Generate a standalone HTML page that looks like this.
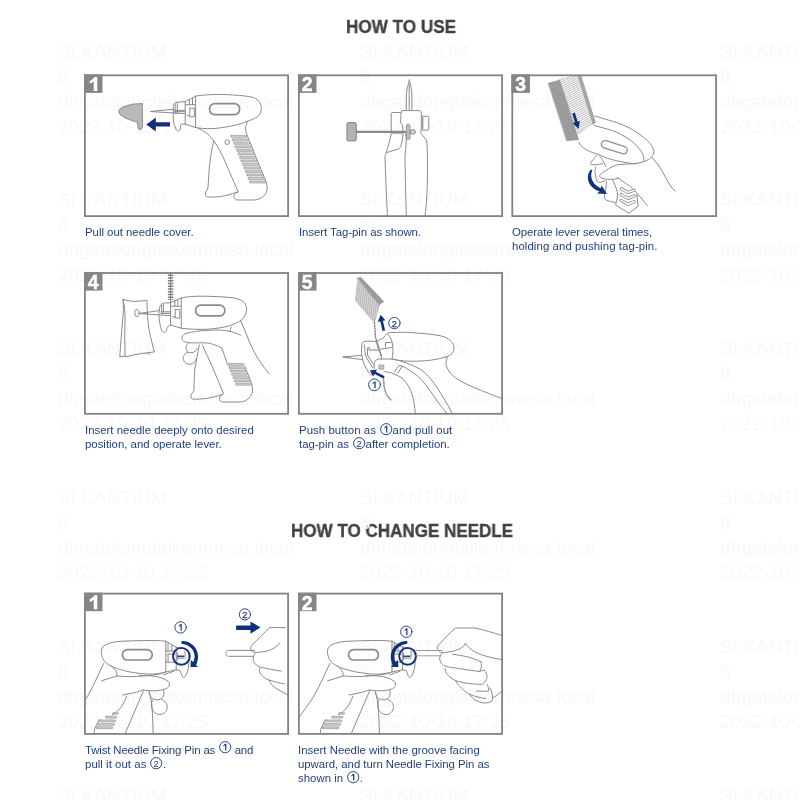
<!DOCTYPE html>
<html><head><meta charset="utf-8">
<style>
html,body{margin:0;padding:0;background:#fff;}
body{width:800px;height:800px;position:relative;overflow:hidden;font-family:"Liberation Sans",sans-serif;}
.h{will-change:transform;position:absolute;font-weight:bold;color:#414141;-webkit-text-stroke:0.35px #414141;font-size:18px;line-height:18px;white-space:nowrap;transform-origin:0 0;}
.box{position:absolute;box-sizing:border-box;border:2px solid #868686;border-top-width:1.6px;border-bottom-width:1.8px;width:205px;height:142.5px;background:transparent;}
.bd{position:absolute;width:18.6px;height:18.2px;background:#858585;color:#fff;font-weight:bold;font-size:19.5px;line-height:21px;text-align:center;overflow:hidden;}
.t{will-change:transform;position:absolute;color:#223f7f;font-size:11.4px;line-height:14px;white-space:nowrap;transform-origin:0 0;}
.wm{position:absolute;color:#f9f9f9;font-size:19px;line-height:25px;white-space:nowrap;}
svg{position:absolute;left:0;top:0;}
.c{display:inline-block;position:relative;left:auto;top:0;width:12.4px;height:12.4px;margin:-4px 0.5px -1.8px 0.5px;overflow:visible}
</style></head><body>

<div class="h" id="h1" style="left:346.3px;top:17.7px;transform:scale(0.951,1.01)">HOW TO USE</div>
<div class="h" id="h2" style="left:290.5px;top:521.7px;transform:scale(0.946,1.02)">HOW TO CHANGE NEEDLE</div>

<!-- faint watermark -->
<div class="wm" style="left:58px;top:38.5px">SI.KANTIUM<br>8<br>dhgatelongtaikemnesa.local<br>2022-10-10 17:25</div>
<div class="wm" style="left:360px;top:38.5px">SI.KANTIUM<br>8<br>dhgatelongtaikemnesa.local<br>2022-10-10 17:25</div>
<div class="wm" style="left:720px;top:38.5px">SI.KANTIUM<br>8<br>dhgatelongtaikemnesa.local<br>2022-10-10 17:25</div>
<div class="wm" style="left:58px;top:187.3px">SI.KANTIUM<br>8<br>dhgatelongtaikemnesa.local<br>2022-10-10 17:25</div>
<div class="wm" style="left:360px;top:187.3px">SI.KANTIUM<br>8<br>dhgatelongtaikemnesa.local<br>2022-10-10 17:25</div>
<div class="wm" style="left:720px;top:187.3px">SI.KANTIUM<br>8<br>dhgatelongtaikemnesa.local<br>2022-10-10 17:25</div>
<div class="wm" style="left:58px;top:336.1px">SI.KANTIUM<br>8<br>dhgatelongtaikemnesa.local<br>2022-10-10 17:25</div>
<div class="wm" style="left:360px;top:336.1px">SI.KANTIUM<br>8<br>dhgatelongtaikemnesa.local<br>2022-10-10 17:25</div>
<div class="wm" style="left:720px;top:336.1px">SI.KANTIUM<br>8<br>dhgatelongtaikemnesa.local<br>2022-10-10 17:25</div>
<div class="wm" style="left:58px;top:484.9px">SI.KANTIUM<br>8<br>dhgatelongtaikemnesa.local<br>2022-10-10 17:25</div>
<div class="wm" style="left:360px;top:484.9px">SI.KANTIUM<br>8<br>dhgatelongtaikemnesa.local<br>2022-10-10 17:25</div>
<div class="wm" style="left:720px;top:484.9px">SI.KANTIUM<br>8<br>dhgatelongtaikemnesa.local<br>2022-10-10 17:25</div>
<div class="wm" style="left:58px;top:633.7px">SI.KANTIUM<br>8<br>dhgatelongtaikemnesa.local<br>2022-10-10 17:25</div>
<div class="wm" style="left:360px;top:633.7px">SI.KANTIUM<br>8<br>dhgatelongtaikemnesa.local<br>2022-10-10 17:25</div>
<div class="wm" style="left:720px;top:633.7px">SI.KANTIUM<br>8<br>dhgatelongtaikemnesa.local<br>2022-10-10 17:25</div>
<div class="wm" style="left:58px;top:782.5px">SI.KANTIUM<br>8<br>dhgatelongtaikemnesa.local<br>2022-10-10 17:25</div>
<div class="wm" style="left:360px;top:782.5px">SI.KANTIUM<br>8<br>dhgatelongtaikemnesa.local<br>2022-10-10 17:25</div>
<div class="wm" style="left:720px;top:782.5px">SI.KANTIUM<br>8<br>dhgatelongtaikemnesa.local<br>2022-10-10 17:25</div>
<!-- ILLUSTRATIONS -->
<svg id="art" width="800" height="800" viewBox="0 0 800 800" fill="none" stroke="#8a8a8a" stroke-width="1" stroke-linecap="round" stroke-linejoin="round">
<!-- PANEL 1 -->
<g id="p1">
  <!-- needle cover -->
  <path d="M118.8,111.3 C119.5,107 130,103.6 142.4,103.7 L142.5,126 C142.3,129 140,130.2 138.9,129 C137.6,127.4 138,124 137.3,122.3 C133,120.8 119,117.5 118.8,111.3 Z" fill="#b9b9b9" stroke="#9a9a9a" stroke-width="1.2"/>
  <!-- arrow -->
  <path d="M146.3,124.4 L155.8,117.6 L155.8,122.2 L170,122.2 L170,126.6 L155.8,126.6 L155.8,131.4 Z" fill="#10307d" stroke="none"/>
  <!-- needle -->
  <path d="M150.8,111.4 L173.4,109.3 M150.8,111.6 L185,113.6 M173.4,110.4 L185,110.4 M175,111.7 L185,111.7"/>
  <!-- front nose piece -->
  <path d="M185.4,101.6 L177,102.2 C174.6,102.6 173.3,104 173.3,106.5 L173.2,119 C173.4,123 174.8,126.5 176,129 C177,131.6 179.6,131.6 180.2,129.6 L180.6,125.4 C180.8,124.4 181.3,124.1 182.2,124.1 L185.4,124.2"/>
  <path d="M185.2,101.6 L185.2,124.3 M175.2,104 L175.2,113.4 M177.3,103.6 L177.3,113.4"/>
  <!-- cone -->
  <path d="M185.4,101.6 L195.6,96.1 M185.4,124.2 L195.6,127.5 M192.5,97.6 L192.5,104.7 M189.4,99.6 L189.4,104.7 M185.4,104.7 L195.4,104.7"/>
  <path d="M189.8,108.2 L194.3,108.2 L194.3,116.8 L189.3,116.8 L189.3,115.4 L187.4,115.4 M189.8,108.2 L189.8,115.2"/>
  <!-- main body -->
  <path d="M195.6,96.1 L195.6,127.5 M195.6,96.1 C205,94.6 215,94.3 225,94.6 C235,95 245,95.8 251.3,96.9 C257.5,98.3 261.3,103 261.3,108.6 C261.3,112.6 259.6,115.4 257,117 C254,119 250,120.4 247.5,121.3 C240,124.4 225,128 212,128.6 C206,128.8 200,128.4 195.6,127.5"/>
  <rect x="209.6" y="103.6" width="30" height="11" rx="5" ry="5" stroke="#8a8a8a" stroke-width="1.7"/>
  <!-- handle -->
  <path d="M197.8,128.2 C205,131 210,135.4 213.8,140.8 C218,147 222,154 225.5,162.5 C229.5,172 234,182.5 238,191.2"/>
  <path d="M213.8,140.8 C211.5,150 210,160 209.3,168 C208.7,176 208.4,182 208,187.5 C207.6,189.6 206,191 205.6,192.8 C205.2,194.8 205.6,196.4 207.2,196.8 C211,197.2 216,197.2 220,196.6 C226,195.8 232,194 238,191.6"/>
  <path d="M238,192.4 C236,192.8 234.4,193.4 234,195 C233.5,197.4 234.6,199.6 237.2,200 L254,200 C258.5,199.8 262.5,198 265,194.4 C267.2,191.4 267.8,187.5 266.4,182.8 L248,137.4 C246,133 245,129 245.7,126.5 C246.2,124.6 246.8,122.8 247.5,121.3"/>
  <circle cx="227.3" cy="142.2" r="2.3"/>
</g>

<!-- PANEL 2 -->
<g id="p2">
  <!-- needle -->
  <path d="M409.4,80 C408,85 406.6,90 406.3,94 L406.3,110.4 M409.4,80 C410.6,85 411.6,90 411.9,94 L411.9,110.4 M409.2,84 L409.2,110"/>
  <!-- head block -->
  <path d="M402.6,110.6 L419.4,110.6 C420.8,110.8 421.3,111.6 421.3,113 L421.3,129.6 C421.2,130.6 420.4,131.2 420.6,132.4 C421,134 422.6,135.2 424,137 C425.6,139 426.8,140.6 426.9,142 C427.3,150 427.6,160 427.5,170 C427.4,180 427.2,190 426.8,196 C426.4,204 425.6,211 425,216.4"/>
  <path d="M402.6,110.6 C401.4,110.8 401.1,111.6 401.1,112.6 L400.6,122.2 C400.7,123.6 402.3,124 402.6,125.4 L403.1,133.6 C402.8,138 402,142 401.2,145 C400.6,147 399.8,148.2 398.6,148.8 L386.8,152.6"/>
  <!-- left small block -->
  <path d="M401,112.5 L392.4,112.5 C391.5,112.6 391.2,113 391.2,114 L391.2,133.8 C390,140 388,147 386.4,152.4 C385.4,154.6 385,156 385,158 C385.2,165 385.5,172 385.8,180 C386.2,190 386.8,205 387.5,216.4"/>
  <!-- centre line -->
  <path d="M405.6,134 C406.4,138 406.2,142 406,146 C405.4,152 405,156 405,160 C405.2,175 405.8,195 406.3,216.4"/>
  <!-- button -->
  <path d="M421.8,116.3 L427.8,116.3 C428.5,116.4 428.8,116.8 428.8,117.4 L428.8,129 C428.8,129.8 428.4,130.1 427.6,130.1 L421.8,130.1"/>
  <path d="M422.6,118 L422.6,128.5" stroke="#a0a0a0" stroke-width="1.8" stroke-dasharray="0.7 0.6"/>
  <!-- tag pin paddle -->
  <rect x="347" y="122.6" width="9.3" height="18.4" rx="2.2" fill="#b3b3b3" stroke="#8f8f8f" stroke-width="1.2"/>
  <path d="M356.4,131.9 L405.4,131.9" stroke="#8a8a8a" stroke-width="2.1"/>
  <path d="M391.4,133.6 L403,133.6" stroke="#aaa" stroke-width="0.9"/>
  <!-- pin head -->
  <rect x="406.4" y="124.4" width="3.6" height="15" rx="1.2" fill="#bdbdbd" stroke="#8f8f8f" stroke-width="0.9"/>
  <circle cx="413" cy="131.9" r="2.4" fill="#d5d5d5" stroke="#8f8f8f" stroke-width="0.9"/>
  <path d="M410,130.4 L411,130.4 M410,133.4 L411,133.4"/>
</g>

<!-- PANEL 3 -->
<g id="p3">
  <defs>
    <pattern id="hat3" width="4" height="1.95" patternUnits="userSpaceOnUse" patternTransform="rotate(-27 560 80)">
      <rect x="0" y="0" width="4" height="1.95" fill="#fff"/>
      <rect x="0" y="0" width="4" height="0.9" fill="#9c9c9c"/>
    </pattern>
    <pattern id="hat3b" width="4" height="1.6" patternUnits="userSpaceOnUse" patternTransform="rotate(-8 560 80)">
      <rect x="0" y="0" width="4" height="1.6" fill="#a9a9a9"/>
      <rect x="0" y="0" width="4" height="0.9" fill="#8e8e8e"/>
    </pattern>
  </defs>
  <!-- strip: left grey band -->
  <path d="M548.6,83.2 L559.8,80.2 L578.4,139.6 L567,140.6 Z" fill="#a6a6a6" stroke="#999" stroke-width="0.8"/>
  <!-- middle hatched band -->
  <path d="M559.8,79.4 L577.4,75.4 L592.6,123.4 L578.6,133.8 Z" fill="#fff" stroke="#a4a4a4" stroke-width="0.6"/>
  <!-- right thin band -->
  <path d="M577.4,75.4 L580.8,75.4 L595.4,122.6 L592.4,124.4 Z" fill="#a6a6a6" stroke="#9a9a9a" stroke-width="0.7"/>
  <!-- small arrow -->
  <path d="M572.3,113.6 L574.9,112.8 L577.6,121.6 L579.8,120.9 L578.6,128.9 L572.9,123 L575,122.4 Z" fill="#10307d" stroke="none"/>
  <!-- body -->
  <path d="M594.8,116 C600,117.6 604,118.8 608.8,120.2 C615,122 620,123.6 625,125.8 C631,128.6 636,131.6 640,134.6 C645,138.4 649,141.6 651.4,145.2 C653.4,148.4 654.4,151 653.6,153.6 C652.6,156.6 650,159 645.2,161.2 C642,162.4 640,162.8 637.4,163.2"/>
  <path d="M594.4,125.6 C600,127 606,128.6 612.5,130.6 C618,132.6 623,135.4 627.5,138.2 C632,141.2 636,144.8 638.8,148.2 C641,151 642.4,153 643.1,155.2 C643.9,157.6 644,159.4 643.6,161.4"/>
  <path d="M578.8,142.4 C580,144.8 581.6,146.6 583.8,148.2 C587,150.6 592,152.4 596.3,153.8 C600,155.2 604,156.8 607.5,158.2 C611,159.6 615,160.4 620,161.4 C624,162.2 628,163 632.5,163.6 C634.5,163.7 636,163.5 637.4,163.2"/>
  <!-- slot -->
  <rect x="600.9" y="143.5" width="26.8" height="7.4" rx="3.7" transform="rotate(17.6 614.3 147.2)" stroke="#8f8f8f" stroke-width="1.3"/>
  <!-- lever bits -->
  <path d="M596.9,155.4 C594.6,158 592.4,160.4 590.8,162.4 C590.2,163.6 590.8,164.8 592.2,164.9 C596,164.9 599.6,164.4 602.6,163.6"/>
  <path d="M600,156.6 C602.4,159.4 604.4,162.6 605.6,166.4"/>
  <path d="M595.8,166.8 C595,168.8 594.8,170.6 595,172.6 C595.4,176 596.2,179 597,181.2 C598,182.6 599.4,182.8 600.4,182.4 C602,181.8 603.6,181.2 605,180.6"/>
  <path d="M606.4,181.4 C606.4,184.4 606,187.4 605.6,190 C605,193 604.2,195.4 604.4,197 C604.8,198.8 605.4,199.6 606.6,200.2 C609,201.2 612,202 615.2,202.4"/>
  <!-- index finger -->
  <path d="M636.2,163.7 C630,163.8 622,164.2 616.3,165 C612.6,166.2 609.4,168.2 606.3,170.2 C604,171.6 601.6,173 600.2,174.4 C599.4,175.6 599.6,176.8 600.8,177.6 C603,178.6 605.4,179.2 607.6,179.4 C611,179.6 614.4,179.2 617.6,178.6"/>
  <!-- wrist line -->
  <path d="M617.4,177.6 C622,180.6 626,183.6 630,186.4 C633,189 635.4,191.6 637.5,193.8 C641,198 644.4,202 647.6,205.8"/>
  <!-- back of hand -->
  <path d="M652,157.4 C655,160.6 657.6,164 660,167.6 C662,170.6 663.6,173.6 665,176.4 C666.6,179.6 668.4,182.6 670,185 C671.6,187.4 673.4,189.6 675.2,191.2"/>
  <!-- handle -->
  <path d="M612.6,180 C614.6,184 616.4,188 617.5,192.4 C618,196 616.6,200.6 615.6,205 L628.8,213.2 L638.2,206.2 C637.6,202 637.2,198 636.9,194"/>
  <!-- chevrons -->
  <g stroke="#959595" stroke-width="3.3" stroke-linejoin="round" stroke-linecap="round">
    <path d="M621.4,188.8 L628,192.4 L634,190.2"/>
    <path d="M621.2,194.6 L628,198.4 L634.2,196"/>
    <path d="M621,200.4 L628,204.2 L634.2,201.8"/>
  </g>
  <g stroke="#fff" stroke-width="1.5" stroke-linejoin="round" stroke-linecap="round">
    <path d="M621.4,188.8 L628,192.4 L634,190.2"/>
    <path d="M621.2,194.6 L628,198.4 L634.2,196"/>
    <path d="M621,200.4 L628,204.2 L634.2,201.8"/>
  </g>
  <!-- curved arrow -->
  <path d="M590.9,169.6 C587.2,174 586.6,180 590.6,185.4 C593,188.4 596.4,190.4 599.6,191.4 L597,193.4 L606.9,193.9 L601.6,185.4 L600.8,188.2 C597.6,187 594.6,184.6 592.9,181.6 C590.8,177.6 590.6,173.4 592.4,170.2 Z" fill="#10307d" stroke="none"/>
</g>

<!-- PANEL 4 -->
<g id="p4">
  <!-- fabric -->
  <path d="M123.1,299.4 C127,300.6 131,301.4 135,301.4 C139,301.4 143,300.6 146.9,300.4 C147,307 147.4,315 148.1,322.5 C148.8,329 150,335 151.3,340 C152.2,344 153.4,348 154.4,351.9 C150,352.4 145,353 140,353.8 C135,354.6 130,355.8 125,356.9 C124.6,345 124.8,330 125,318 C125,311 124.4,305 123.1,299.4 Z"/>
  <path d="M123.1,299.4 C123.6,306 123.4,313 122.6,320 C121.8,330 120.6,345 119.8,357 L124.8,356"/>
  <path d="M140,353.4 C145,353.2 149,353.4 150.6,354.4" stroke="#aaa"/>
  <ellipse cx="136.9" cy="313.1" rx="2.2" ry="3.7"/>
  <!-- needle -->
  <path d="M139.6,313.4 L159.6,310.6 M139.6,313.6 L170.4,315.6 M140,313.5 L146,313.3" />
  <path d="M161,311.8 L170.4,311.8 M161,313.4 L170.4,313.4"/>
  <!-- coil -->
  <path d="M170.6,273.4 L170.6,325"/>
  <path d="M170.6,274.6 L170.6,300" stroke="#808080" stroke-width="5.4" stroke-dasharray="1.3 1.45" stroke-linecap="butt"/>
  <!-- nose front -->
  <path d="M170.2,302.7 L164.4,303 C161.6,303.4 160,305 159.6,307.6 C158.8,311 158.6,315 159.4,320 C159.8,324 160.4,327 161.4,329.6 C162.2,332 164.2,333 165.8,331.8 C166.8,330.8 166.6,328.8 167.2,327.4 C167.8,326.2 169,325.4 170.6,325"/>
  <path d="M161.6,305.4 L161.6,313 M163.4,304.4 L163.4,312"/>
  <!-- cone -->
  <path d="M170.6,302.7 L181.2,298 M170.6,325 L181.2,328.2 M177.8,299.8 L177.8,306.2 M174.8,301 L174.8,306.2 M170.8,306.2 L181,306.2"/>
  <path d="M175.2,309.6 L179.8,309.6 L179.8,318 L174.6,318 L174.6,316.6 L172.8,316.6 M175.2,309.6 L175.2,316.4"/>
  <!-- body -->
  <path d="M181.2,298 L181.2,328.2"/>
  <path d="M181.2,298 C187,296.6 194,296.2 200,296.2 C212,296.2 224,296.8 233,297.8 C240,298.8 246,302 246.6,307.6 C247,312 245.4,316.4 242,319.6 C238.6,322.2 234,324.2 230,325.6 C224,327.4 216,328.6 207.5,329.2 C198,329.6 189,329.2 181.2,328.2"/>
  <rect x="195.6" y="305.2" width="29.2" height="10.6" rx="5" stroke="#8a8a8a" stroke-width="1.7"/>
  <!-- index finger -->
  <path d="M240.5,335.3 C237,333.4 233.6,332.2 230,331.5 C226,330.6 222,330.2 219.5,330 C212,330 206,330.4 200,330.8 C194,331.6 189,332.6 185,333.8 C183,334.8 181.8,336.6 181.9,338.4 C182,340 183,340.8 184.6,341.6 C186.6,342.4 188.4,342.6 189.5,342.8 C195,343 200,342.8 204.5,342.8 C208.6,343 212,343.8 215,345 C217.6,345.8 220,346.8 221.8,348"/>
  <path d="M231.4,327 C230.6,328.6 230.2,330 230,331.5"/>
  <!-- knuckles -->
  <path d="M188.6,342.8 C186,344.6 185.4,347.6 186.4,350 C187.4,352.2 189.6,353 192,352.6 C194.6,352.2 196.4,350.6 197,348.4"/>
  <path d="M188,352.2 C184.4,353.6 182.8,356.6 183.4,359.6 C184.2,362.8 187,364.6 190.4,364.2 C193.8,363.8 196,361.4 196.4,358.4"/>
  <!-- back of hand -->
  <path d="M240.5,320.3 C243.6,327 246.6,335 249.5,342 C252.6,349 256,356 260,361.5 C263,366 266,370 269,373.5"/>
  <!-- lever -->
  <path d="M199.3,345 C198,352 196.4,361 194.8,369 C194.2,377 194,384 194,390 C193.6,392 191.4,393.6 191,395.3 C190.6,397.4 191.2,398.8 192.5,399 C197,399.4 202,399 207.5,398.3 C212.6,397.4 217.6,396 222.5,394.5"/>
  <path d="M202.3,345 C205.6,352 208.8,359 212,366 C215.8,375 219.6,384 223.3,393"/>
  <path d="M223.3,393.8 C221.4,394.6 219.8,396.2 219.5,398.4 C219.3,400.6 220.6,401.9 222.5,402 L240.5,402 C244.4,401.6 247.4,400 249.5,397.5 C251.6,395 252.6,392.6 252.5,390 C252.5,388 252.2,386 251.8,384"/>
  <path d="M221.8,348 C223.6,353 225.4,358 227,363"/>
  <path d="M245,366.8 L251.8,384"/>
</g>

<!-- PANEL 5 -->
<g id="p5">
  <!-- clip of pins: hatched body -->
  <path d="M357.6,281 L355.6,300.4 L374.4,322.6 L379.4,304.6 Z" fill="#b4b4b4" stroke="#a0a0a0" stroke-width="0.6"/>
  <!-- top band -->
  <path d="M357.4,278.2 L360.6,277.2 L383.8,301.6 L379,304.8 Z" fill="#9a9a9a" stroke="#949494" stroke-width="0.7"/>
  <!-- chain -->
  <path d="M374.4,322.6 C375,328 375,332 375.4,336 C376,340 377.4,343 378.2,346 C379.4,350 380.4,353 381,356" stroke="#8a8a8a" stroke-width="1.5" stroke-dasharray="1.2 1.5"/>
  <path d="M383.3,377 C383.6,381 383.8,384 384.2,387 C384.8,390 385.6,392.6 386.6,394.6 C387.8,396.8 389.4,398.6 391,399.8" stroke="#8a8a8a" stroke-width="1.4" stroke-dasharray="1.2 1.5"/>
  <path d="M383.6,377 C384,383 384.6,389 386.4,393.6 C387.6,396.4 389.2,398.4 391,399.8" stroke="#aaa" stroke-width="0.7"/>
  <!-- arrow 2 -->
  <path d="M380.6,314.8 L385.4,320.2 L382.9,320.7 L385.1,330.4 L382.5,331 L380.3,321.3 L377.8,321.9 Z" fill="#10307d" stroke="none"/>
  <circle cx="394.4" cy="323.1" r="5.7" stroke="#27438a" stroke-width="1"/>
  <!-- circle 1 -->
  <circle cx="374.5" cy="384.8" r="5.9" stroke="#27438a" stroke-width="1"/>
  <!-- body -->
  <path d="M375.6,341.6 C379,340.4 382,338.6 384,337.4 C385.4,336 386,334.4 387.2,333.4 C388.6,332.6 390.4,332.5 392,332.5 C398,332.3 404,332.3 408,332.4 C420,333 430,334 439,335.5 C446,336.8 451.6,340 453.4,344.8 C454.6,348.4 454,351 452.4,353 C450.6,355.2 448,356.4 445.2,357.1"/>
  <path d="M392,359 C398,360.4 403,361 408,361.2 C416,361.4 424,361 430.8,360.2 C436,359.4 441,358.4 445.2,357.1"/>
  <!-- back of grip -->
  <path d="M447.4,357 C446,360 445.8,362.8 446.2,365.4 C447.4,370 451,374.6 455.5,377.8 C462,382.4 471,386.4 480.3,390.1 C487,392.8 494,395.6 502,398.6"/>
  <!-- nose front piece -->
  <path d="M375.6,341.6 C372,341 368,341 364.6,341.4 C362.8,341.8 362.2,342.8 362,344.2 C361.4,348 361.4,352 361.8,355 C362.2,358 363,361 364,364 C365.4,367.6 367.4,370.6 369.6,373.6 L371.6,375.2"/>
  <path d="M364.5,345 C364.6,349 365,352 365.5,355 C367.4,359.6 370,364 373,368"/>
  <path d="M367.5,349.4 L367.5,355 C369.4,358.6 371.6,362 374,365"/>
  <circle cx="368.5" cy="348.4" r="1.1"/>
  <path d="M369.4,350 L378,350"/>
  <path d="M376.5,341.6 C377,344.6 377.8,347.4 378.5,350 C379.6,351.6 380.6,352.8 381,354 C381.4,355.6 381.5,357.4 381.5,359"/>
  <path d="M388,334.5 C390,336.6 391.4,339.4 392,342 C392.8,344.6 393,347.4 393,350 C393,353 392.6,356 392,359"/>
  <path d="M385.5,347 L385.5,342.5 L391,342.5 M380,349.2 L392.4,347.4"/>
  <!-- needle -->
  <path d="M343.2,357 L361.6,355.4 M343.2,357.2 L362.4,359.6 M343.6,357.1 L350,357"/>
  <!-- finger -->
  <path d="M374.6,368.4 C374,366.6 373.8,364.4 374.4,362.6 C375,360.6 376.6,359.4 378,359 L392,359 C396,359.6 399.4,360.6 402,361.5 C408,363.4 414,366 420,369 C426,373 431,379 436,386 C441,393.6 447,403 452.4,413.9"/>
  <path d="M402,366 C408,369 413.6,372.6 418.4,376.8 C424,382 429.6,389.6 434,396.4 C438,402.6 443,408.6 447.3,413.9"/>
  <path d="M384,371.5 C388,372 391,372.8 394,374 C397,375.2 399.6,376.6 402,378 C404.6,380.6 407,383.6 409,387 C411.4,391.6 413,397 414,402.5 C414.6,406 415,410 415.3,413.9"/>
  <path d="M394.6,372 C395.8,369.6 397.4,367.4 399,365.5 C400,365.4 401,365.6 402,366 C400.8,368.6 399.4,371 398,373"/>
  <!-- button -->
  <rect x="379.2" y="365" width="4.6" height="4.2" fill="#c4c4c4" stroke="#979797" stroke-width="0.8"/>
  <!-- arrow 1 -->
  <path d="M369.8,370.6 L377.2,369.6 L375.8,371.8 L384.6,376.2 L383.4,378.4 L374.6,374 L373.2,376.4 Z" fill="#10307d" stroke="none"/>
</g>

<!-- CHANGE NEEDLE: shared gun+hand -->
<defs>
<clipPath id="clipc1"><rect x="85" y="593.6" width="203" height="140.4"/></clipPath>
<clipPath id="clipc2"><rect x="299" y="593.6" width="203" height="140.4"/></clipPath>
<g id="gh">
  <!-- body -->
  <path d="M165.8,641.2 L165.8,672"/>
  <path d="M165.8,641.2 C160,640.6 155,640.5 150,640.5 C140,640.6 130,640.8 120,641.3 C114,641.8 109,643 105,645 C102.4,646.6 101,649 101.3,652.5 C101.6,655.6 102.4,658 103.5,660 C106,663.6 110,666 114,667.5 C120,669.8 127,671.6 135,672.8 C140,673.6 145,674.1 150,674.2 C155,674.2 160,673.4 165.8,672"/>
  <rect x="122.4" y="649.6" width="29.8" height="10.4" rx="5" stroke="#8a8a8a" stroke-width="1.7"/>
  <!-- cone -->
  <path d="M165.8,641.2 L176.2,647.2 M165.8,672 L176.2,669.8 M168,642.6 L168,651 M171.8,644.8 L171.8,651 M166,651 L176,651 M166,662.2 L176,662.2 M168,654 L168,662 M168,654 L175,654"/>
  <!-- front nose -->
  <path d="M176.2,647.2 C180,648 184,648.8 187.5,649.5 C188.6,652 189,654.6 189,657 C189,661 188.8,665 188.2,669 C187.4,672 186.4,674.6 185.2,676.4 C184.2,677.8 182.8,677.6 182.2,676.4 C181.4,674.6 180.8,672.4 180,670.5 L176.2,669.8"/>
  <path d="M176.2,647.2 L176.2,669.8 M177.4,653 L177.4,660 M185,651 L185,657"/>
  <path d="M177,658.4 L185,658.4" stroke="#a8a8a8"/>
  <!-- navy circle + bar -->
  <circle cx="181.4" cy="656.3" r="8.4" stroke="#10307d" stroke-width="1.9"/>
  <path d="M177.2,656.3 L184.2,656.3" stroke="#27438a" stroke-width="1.8" stroke-linecap="butt"/>
  <!-- wrist -->
  <path d="M103.7,663.5 C100,671 96,680 91.3,689.4 C88,696 84,702 80,707.4 C77.6,711 75,714.6 72.7,717.5"/>
  <!-- thumb crease -->
  <path d="M101.4,680.9 C106,679.4 112,677.4 117.2,675.9 C117,673 116,671 114.9,669.7 C114,668.2 112.8,666.8 111.5,665.75"/>
  <path d="M117.2,675.9 C124,676.6 131,676.8 136.3,676.4 C144,676 152,675.2 158.8,674.2 C161,673.6 162.6,673.2 163.5,673"/>
  <path d="M163.5,675 C167,673.6 170.6,672.4 174,671.2"/>
  <!-- index finger -->
  <path d="M139.5,675.4 C146,675.4 151,675.8 156,676.5 C159.6,677.2 162.6,678.2 165,679.5 C167.6,680.8 169.6,682.4 169.5,684 C169.4,686 168.4,687.6 166.5,688.5 C163.6,689.8 160,690.4 156,690.75 C151,691 147,690.6 143,689.9 C140,690.8 138,691.6 136.3,692.2 C131,693.4 127,694.2 122.8,695"/>
  <!-- knuckles -->
  <path d="M149.2,691.4 C149.6,694 150.4,696.4 151.5,698.2 C154,699.6 156.6,700 159,699.75 C161,699 162.6,697.8 163.5,696 C164.2,694 164.2,692 163.5,690"/>
  <path d="M152.4,700.4 C151.2,703 151,706 152,708.8 C153.4,712.6 156.6,714.6 160.2,714.6 C164,714.4 166.8,711.6 167.2,707.4 C167.4,703.6 165,700.4 161.6,699.6"/>
  <!-- lever -->
  <path d="M143.6,690.5 L125,733.8"/>
  <path d="M149.2,692.2 C150.6,697 151.6,702 152,706.25 C152.6,715 153,725 153.2,733.8"/>
  <!-- handle -->
  <path d="M126.7,696.1 C125.4,700 123.6,703.4 121.7,706.25 C120.4,708 119,709.8 117.2,711.3 C115.6,712.6 113.8,713.8 112.1,714.7"/>
  <path d="M99.2,719.75 C97.6,722.8 96,725.8 94.7,728.75 C94.3,730.4 94.1,732 94.1,733.8"/>
  <g fill="#cecece" stroke="#8e8e8e" stroke-width="0.6">
    <rect x="112.6" y="712.7" width="6" height="1.6" rx="0.8"/>
    <rect x="105.4" y="716.3" width="11.6" height="1.8" rx="0.9"/>
    <rect x="99.4" y="719.9" width="16.4" height="1.9" rx="0.9"/>
    <rect x="97.6" y="723.4" width="17" height="1.9" rx="0.9"/>
    <rect x="95.9" y="726.8" width="17" height="1.9" rx="0.9"/>
  </g>
</g>
</defs>
<g clip-path="url(#clipc1)"><use href="#gh"/></g>
<g clip-path="url(#clipc2)"><use href="#gh" transform="translate(226.2 0)"/></g>
<!-- c1 arrow (clockwise) -->
<g id="c1arr">
  <path d="M181.5,641 C190.4,640.8 197.5,647 198,655.75 C198.1,658 197.8,659.8 197.3,661.4 L196.2,665.4 L197.5,666.2 L197.5,667.1 L190.5,667.1 L190.8,660 L193.2,662 C194.2,660 194.7,658 194.6,655.75 C194,649 188.6,644.3 181.5,643.8 Z" fill="#10307d" stroke="none"/>
</g>
<g id="c2arr" transform="translate(588.8 0) scale(-1 1)">
  <path d="M181.5,641 C190.4,640.8 197.5,647 198,655.75 C198.1,658 197.8,659.8 197.3,661.4 L196.2,665.4 L197.5,666.2 L197.5,667.1 L190.5,667.1 L190.8,660 L193.2,662 C194.2,660 194.7,658 194.6,655.75 C194,649 188.6,644.3 181.5,643.8 Z" fill="#10307d" stroke="none"/>
</g>
<!-- c1 right hand + needle -->
<g id="c1hand">
  <path d="M236.1,625.4 L250.5,625.4 L250.5,621.4 L260.4,627.6 L250.5,633.8 L250.5,629.9 L236.1,629.9 Z" fill="#10307d" stroke="none"/>
  <path d="M254.6,650.4 L228.6,650.4 C226.6,650.6 225.8,651.8 225.8,653.3 C225.8,655 226.8,656.2 228.6,656.3 L253.6,656.3"/>
  <path d="M285.4,627.6 L269.8,627.6 C264,633 257.6,639.6 251.8,645.4 C250.6,647 250.4,648.8 251,650.1 C252,651.6 253.4,652.2 255,652.4 C259,652.4 263,652 266.3,651.2 C269.6,650.4 272.8,649 275.3,647.3 C277.2,645.8 278.6,644.4 279.8,642.8"/>
  <path d="M255,653.6 C253.6,655.4 253,657.4 253.2,659.6 C253.6,662 254.8,663.6 256.3,665 C257.6,666 259,666.8 260.6,667.2 C267,668.6 274,670 281.2,671.2"/>
  <path d="M260,668.1 C259.2,669.4 259.2,670.6 259.5,671.6 C260.2,673.6 261.2,675 262.5,676.3 C264.4,678 266.4,679.2 268.8,680 C274,681.6 279,682.8 284.4,684"/>
  <path d="M268.8,680 C270,682 271.2,683.8 272.5,685.6 C274.6,687.6 277,689.2 280,690.6 C282.6,692.2 285.4,693.6 288.1,695"/>
</g>
<!-- c2 right hand + needle -->
<g id="c2hand">
  <path d="M415.8,650.5 L442,650.5 M415.8,655.8 L440.6,655.8" stroke="#9a9a9a"/>
  <path d="M502,635.5 C493,632.6 484,630 475,628 L455.5,628 C449,633.6 443.6,639.6 438.4,645.2 C437.2,646.6 437,648 437.5,649.2 C438.6,651.4 440.2,652.4 442,652.75 C447,652.4 452,651.4 455.5,650.5 C458.6,649.6 461,648.2 463,646.75 C464,645.8 464.8,644.8 465.3,643.75"/>
  <path d="M465.3,643.75 C468,646.8 471.4,649.8 475,652 C480,654.4 485,656.2 490,657.25 C494,658.2 498,659 502,659.5"/>
  <path d="M452.5,654.25 C458,655 464,656 469,657.25 C473,658.4 477,660 481,661.75"/>
  <path d="M442,653.5 C440.2,655.4 439.4,657.4 439.75,659.5 C440.4,662.2 441.8,664.2 443.5,665.5 C447,666.8 450.4,667.4 454,667.75 C459,668.6 464,669.4 469,670 C472.6,670.6 476,671.2 479.5,671.5 C480.8,669.6 481.4,667.6 481.4,665.5 C481.6,664 481.4,662.8 481,661.75"/>
  <path d="M445,668.5 C445.2,670.8 446,672.8 447.25,674.5 C449.4,677 452.4,679.2 455.5,680.5 C460,682 464.6,683 469,683.5 C473.6,684.2 478,684.4 482.5,684.25 C485,682.4 486.6,680 487,677.5 C487,674.6 485.8,672 484,670 C482.6,670.6 481,671.2 479.5,671.5"/>
  <path d="M455.5,680.5 C456.6,682.8 458.2,684.8 460,686.5 C462.6,689.4 465.6,692 469,694 C472,695.4 475,696.4 478,697 C480.6,697.8 483,698.2 485.5,698.5"/>
  <path d="M476.5,691 C480.6,691.4 484.6,691.4 488.5,691 C488.8,688.6 488.2,686.2 487,684.25"/>
  <path d="M469,694 C470.8,696.2 472.8,698.2 475,700 C478,701.6 481,702.6 484,703 C486.8,703 489.4,702.6 491.5,701.5 C492.8,699.2 493,696.6 492.25,694 C491.8,691.8 491,689.8 490,688"/>
  <path d="M492.25,698.5 C495.6,696.4 499,693.8 502,691"/>
</g>

<g font-family="Liberation Sans, sans-serif" font-size="9.4" fill="#1c3a82" stroke="none" text-anchor="middle">
  <circle cx="180.6" cy="627.4" r="5.7" fill="none" stroke="#27438a" stroke-width="1"/>
  <path transform="translate(174.40 621.20)" d="M6.25,2.8 L7.35,2.8 L7.35,9.6 L6.1,9.6 L6.1,4.35 L4.4,5.5 L4.4,4.35 Z" fill="#1c3a82" stroke="none"/>
  <circle cx="244.9" cy="614.4" r="5.6" fill="none" stroke="#27438a" stroke-width="1"/>
  <text x="244.9" y="617.8" stroke="#1c3a82" stroke-width="0.25">2</text>
  <circle cx="406.3" cy="631.75" r="5.7" fill="none" stroke="#27438a" stroke-width="1"/>
  <path transform="translate(400.10 625.55)" d="M6.25,2.8 L7.35,2.8 L7.35,9.6 L6.1,9.6 L6.1,4.35 L4.4,5.5 L4.4,4.35 Z" fill="#1c3a82" stroke="none"/>
  <text x="394.4" y="326.5" stroke="#1c3a82" stroke-width="0.25">2</text>
  <path transform="translate(368.30 378.60)" d="M6.25,2.8 L7.35,2.8 L7.35,9.6 L6.1,9.6 L6.1,4.35 L4.4,5.5 L4.4,4.35 Z" fill="#1c3a82" stroke="none"/>
</g>

<g id="ridges1"><rect x="230.60" y="135.35" width="16.20" height="2.0" rx="0.9" fill="#d0d0d0" stroke="#8f8f8f" stroke-width="0.6"/><rect x="232.05" y="138.86" width="16.25" height="2.0" rx="0.9" fill="#d0d0d0" stroke="#8f8f8f" stroke-width="0.6"/><rect x="233.49" y="142.37" width="16.29" height="2.0" rx="0.9" fill="#d0d0d0" stroke="#8f8f8f" stroke-width="0.6"/><rect x="234.94" y="145.88" width="16.34" height="2.0" rx="0.9" fill="#d0d0d0" stroke="#8f8f8f" stroke-width="0.6"/><rect x="236.38" y="149.39" width="16.39" height="2.0" rx="0.9" fill="#d0d0d0" stroke="#8f8f8f" stroke-width="0.6"/><rect x="237.83" y="152.90" width="16.43" height="2.0" rx="0.9" fill="#d0d0d0" stroke="#8f8f8f" stroke-width="0.6"/><rect x="239.28" y="156.41" width="16.48" height="2.0" rx="0.9" fill="#d0d0d0" stroke="#8f8f8f" stroke-width="0.6"/><rect x="240.72" y="159.92" width="16.52" height="2.0" rx="0.9" fill="#d0d0d0" stroke="#8f8f8f" stroke-width="0.6"/><rect x="242.17" y="163.43" width="16.57" height="2.0" rx="0.9" fill="#d0d0d0" stroke="#8f8f8f" stroke-width="0.6"/><rect x="243.61" y="166.94" width="16.62" height="2.0" rx="0.9" fill="#d0d0d0" stroke="#8f8f8f" stroke-width="0.6"/><rect x="245.06" y="170.45" width="16.66" height="2.0" rx="0.9" fill="#d0d0d0" stroke="#8f8f8f" stroke-width="0.6"/><rect x="246.51" y="173.96" width="16.71" height="2.0" rx="0.9" fill="#d0d0d0" stroke="#8f8f8f" stroke-width="0.6"/><rect x="247.95" y="177.47" width="16.76" height="2.0" rx="0.9" fill="#d0d0d0" stroke="#8f8f8f" stroke-width="0.6"/><rect x="249.40" y="180.98" width="16.80" height="2.0" rx="0.9" fill="#d0d0d0" stroke="#8f8f8f" stroke-width="0.6"/></g>
<clipPath id="cp3"><path d="M559.8,79.4 L577.4,75.4 L592.6,123.4 L578.6,133.8 Z"/></clipPath><g clip-path="url(#cp3)"><path d="M559.8,79.4 L577.4,75.4 L592.6,123.4 L578.6,133.8 Z" fill="#fff" stroke="none"/><path d="M555.00,70.00 L594.92,49.22 M555.00,72.20 L594.92,51.42 M555.00,74.40 L594.92,53.62 M555.00,76.60 L594.92,55.82 M555.00,78.80 L594.92,58.02 M555.00,81.00 L594.92,60.22 M555.00,83.20 L594.92,62.42 M555.00,85.40 L594.92,64.62 M555.00,87.60 L594.92,66.82 M555.00,89.80 L594.92,69.02 M555.00,92.00 L594.92,71.22 M555.00,94.20 L594.92,73.42 M555.00,96.40 L594.92,75.62 M555.00,98.60 L594.92,77.82 M555.00,100.80 L594.92,80.02 M555.00,103.00 L594.92,82.22 M555.00,105.20 L594.92,84.42 M555.00,107.40 L594.92,86.62 M555.00,109.60 L594.92,88.82 M555.00,111.80 L594.92,91.02 M555.00,114.00 L594.92,93.22 M555.00,116.20 L594.92,95.42 M555.00,118.40 L594.92,97.62 M555.00,120.60 L594.92,99.82 M555.00,122.80 L594.92,102.02 M555.00,125.00 L594.92,104.22 M555.00,127.20 L594.92,106.42 M555.00,129.40 L594.92,108.62 M555.00,131.60 L594.92,110.82 M555.00,133.80 L594.92,113.02 M555.00,136.00 L594.92,115.22 M555.00,138.20 L594.92,117.42 M555.00,140.40 L594.92,119.62 M555.00,142.60 L594.92,121.82 M555.00,144.80 L594.92,124.02 M555.00,147.00 L594.92,126.22 M555.00,149.20 L594.92,128.42" stroke="#a3a3a3" stroke-width="0.75"/></g>
<clipPath id="cp3b"><path d="M548.6,83.2 L559.8,80.2 L578.4,139.6 L567,140.6 Z"/></clipPath><g clip-path="url(#cp3b)"><path d="M545,78.00 L585,74.00 M545,79.90 L585,75.90 M545,81.80 L585,77.80 M545,83.70 L585,79.70 M545,85.60 L585,81.60 M545,87.50 L585,83.50 M545,89.40 L585,85.40 M545,91.30 L585,87.30 M545,93.20 L585,89.20 M545,95.10 L585,91.10 M545,97.00 L585,93.00 M545,98.90 L585,94.90 M545,100.80 L585,96.80 M545,102.70 L585,98.70 M545,104.60 L585,100.60 M545,106.50 L585,102.50 M545,108.40 L585,104.40 M545,110.30 L585,106.30 M545,112.20 L585,108.20 M545,114.10 L585,110.10 M545,116.00 L585,112.00 M545,117.90 L585,113.90 M545,119.80 L585,115.80 M545,121.70 L585,117.70 M545,123.60 L585,119.60 M545,125.50 L585,121.50 M545,127.40 L585,123.40 M545,129.30 L585,125.30 M545,131.20 L585,127.20 M545,133.10 L585,129.10 M545,135.00 L585,131.00 M545,136.90 L585,132.90 M545,138.80 L585,134.80 M545,140.70 L585,136.70 M545,142.60 L585,138.60 M545,144.50 L585,140.50 M545,146.40 L585,142.40 M545,148.30 L585,144.30" stroke="#8c8c8c" stroke-width="0.7"/></g>
<path d="M572.3,113.6 L574.9,112.8 L577.6,121.6 L579.8,120.9 L578.6,128.9 L572.9,123 L575,122.4 Z" fill="#10307d" stroke="none"/>
<g id="ridges4"><rect x="227.40" y="363.50" width="16.80" height="1.9" rx="0.9" fill="#d0d0d0" stroke="#8f8f8f" stroke-width="0.6"/><rect x="228.75" y="366.80" width="16.65" height="1.9" rx="0.9" fill="#d0d0d0" stroke="#8f8f8f" stroke-width="0.6"/><rect x="230.10" y="370.10" width="16.50" height="1.9" rx="0.9" fill="#d0d0d0" stroke="#8f8f8f" stroke-width="0.6"/><rect x="231.45" y="373.40" width="16.35" height="1.9" rx="0.9" fill="#d0d0d0" stroke="#8f8f8f" stroke-width="0.6"/><rect x="232.80" y="376.70" width="16.20" height="1.9" rx="0.9" fill="#d0d0d0" stroke="#8f8f8f" stroke-width="0.6"/><rect x="234.15" y="380.00" width="16.05" height="1.9" rx="0.9" fill="#d0d0d0" stroke="#8f8f8f" stroke-width="0.6"/><rect x="235.50" y="383.30" width="15.90" height="1.9" rx="0.9" fill="#d0d0d0" stroke="#8f8f8f" stroke-width="0.6"/></g>
<clipPath id="cp5"><path d="M357.6,281 L355.6,300.4 L374.4,322.6 L379.4,304.6 Z"/></clipPath><g clip-path="url(#cp5)"><path d="M350.00,275 L344.50,330 M352.00,275 L346.50,330 M354.00,275 L348.50,330 M356.00,275 L350.50,330 M358.00,275 L352.50,330 M360.00,275 L354.50,330 M362.00,275 L356.50,330 M364.00,275 L358.50,330 M366.00,275 L360.50,330 M368.00,275 L362.50,330 M370.00,275 L364.50,330 M372.00,275 L366.50,330 M374.00,275 L368.50,330 M376.00,275 L370.50,330 M378.00,275 L372.50,330 M380.00,275 L374.50,330 M382.00,275 L376.50,330 M384.00,275 L378.50,330" stroke="#e4e4e4" stroke-width="0.8"/></g>

</svg>
<svg id="frames" width="800" height="800" viewBox="0 0 800 800">
<rect x="84.90" y="75.30" width="203.20" height="140.80" fill="none" stroke="#828282" stroke-width="1.8"/>
<rect x="84.00" y="74.40" width="18.5" height="18.5" fill="#868686"/>
<path transform="translate(84.00 74.40)" d="M10.4,2.5 L13.3,2.5 L13.3,16.5 L9.7,16.5 L9.7,7 C8.6,7.9 7.4,8.6 5.8,9.2 L5.8,6.3 C7.8,5.6 9.4,4.3 10.4,2.5 Z" fill="#fff"/>
<rect x="298.90" y="75.30" width="203.20" height="140.80" fill="none" stroke="#828282" stroke-width="1.8"/>
<rect x="298.00" y="74.40" width="18.5" height="18.5" fill="#868686"/>
<text x="307.25" y="91.40" font-family="Liberation Sans, sans-serif" font-weight="bold" font-size="19.4" fill="#fff" stroke="#fff" stroke-width="0.45" text-anchor="middle">2</text>
<rect x="512.30" y="75.30" width="203.80" height="140.80" fill="none" stroke="#828282" stroke-width="1.8"/>
<rect x="511.40" y="74.40" width="18.5" height="18.5" fill="#868686"/>
<text x="520.65" y="91.40" font-family="Liberation Sans, sans-serif" font-weight="bold" font-size="19.4" fill="#fff" stroke="#fff" stroke-width="0.45" text-anchor="middle">3</text>
<rect x="84.90" y="273.00" width="203.20" height="140.80" fill="none" stroke="#828282" stroke-width="1.8"/>
<rect x="84.00" y="272.10" width="18.5" height="18.5" fill="#868686"/>
<text x="93.25" y="289.10" font-family="Liberation Sans, sans-serif" font-weight="bold" font-size="19.4" fill="#fff" stroke="#fff" stroke-width="0.45" text-anchor="middle">4</text>
<rect x="298.90" y="273.00" width="203.20" height="140.80" fill="none" stroke="#828282" stroke-width="1.8"/>
<rect x="298.00" y="272.10" width="18.5" height="18.5" fill="#868686"/>
<text x="307.25" y="289.10" font-family="Liberation Sans, sans-serif" font-weight="bold" font-size="19.4" fill="#fff" stroke="#fff" stroke-width="0.45" text-anchor="middle">5</text>
<rect x="84.90" y="593.60" width="203.20" height="140.30" fill="none" stroke="#828282" stroke-width="1.8"/>
<rect x="84.00" y="592.70" width="18.5" height="18.5" fill="#868686"/>
<path transform="translate(84.00 592.70)" d="M10.4,2.5 L13.3,2.5 L13.3,16.5 L9.7,16.5 L9.7,7 C8.6,7.9 7.4,8.6 5.8,9.2 L5.8,6.3 C7.8,5.6 9.4,4.3 10.4,2.5 Z" fill="#fff"/>
<rect x="298.90" y="593.60" width="203.20" height="140.30" fill="none" stroke="#828282" stroke-width="1.8"/>
<rect x="298.00" y="592.70" width="18.5" height="18.5" fill="#868686"/>
<text x="307.25" y="609.70" font-family="Liberation Sans, sans-serif" font-weight="bold" font-size="19.4" fill="#fff" stroke="#fff" stroke-width="0.45" text-anchor="middle">2</text>
</svg>



<div class="t" id="t1a" style="left:84.60px;top:224.65px;letter-spacing:-0.015px">Pull out needle cover.</div>
<div class="t" id="t2a" style="left:298.60px;top:224.65px;letter-spacing:-0.053px">Insert Tag-pin as shown.</div>
<div class="t" id="t3a" style="left:512.10px;top:224.95px;letter-spacing:-0.088px">Operate lever several times,</div>
<div class="t" id="t3b" style="left:512.10px;top:238.95px;letter-spacing:0.084px">holding and pushing tag-pin.</div>
<div class="t" id="t4a" style="left:84.60px;top:422.80px;letter-spacing:0.009px">Insert needle deeply onto desired</div>
<div class="t" id="t4b" style="left:84.60px;top:437.05px;letter-spacing:0px">position, and operate lever.</div>
<div class="t" id="t5a" style="left:298.85px;top:422.80px;letter-spacing:0.067px">Push button as <svg class="c" viewBox="0 0 12.4 12.4"><circle cx="6.2" cy="6.2" r="5.6" fill="none" stroke="#27438a" stroke-width="1"/><path d="M6.25,2.8 L7.35,2.8 L7.35,9.6 L6.1,9.6 L6.1,4.35 L4.4,5.5 L4.4,4.35 Z" fill="#1c3a82"/></svg>and pull out</div>
<div class="t" id="t5b" style="left:298.85px;top:437.05px;letter-spacing:-0.002px">tag-pin as <svg class="c" viewBox="0 0 12.4 12.4"><circle cx="6.2" cy="6.2" r="5.6" fill="none" stroke="#27438a" stroke-width="1"/><text x="6.2" y="9.6" font-family="Liberation Sans, sans-serif" font-size="9.4" fill="#1c3a82" text-anchor="middle" letter-spacing="0">2</text></svg>after completion.</div>
<div class="t" id="t6a" style="left:84.60px;top:742.75px;letter-spacing:-0.131px">Twist Needle Fixing Pin as <svg class="c" style="top:-2.6px" viewBox="0 0 12.4 12.4"><circle cx="6.2" cy="6.2" r="5.6" fill="none" stroke="#27438a" stroke-width="1"/><path d="M6.25,2.8 L7.35,2.8 L7.35,9.6 L6.1,9.6 L6.1,4.35 L4.4,5.5 L4.4,4.35 Z" fill="#1c3a82"/></svg> and</div>
<div class="t" id="t6b" style="left:84.60px;top:757.05px;letter-spacing:0.043px">pull it out as <svg class="c" viewBox="0 0 12.4 12.4"><circle cx="6.2" cy="6.2" r="5.6" fill="none" stroke="#27438a" stroke-width="1"/><text x="6.2" y="9.6" font-family="Liberation Sans, sans-serif" font-size="9.4" fill="#1c3a82" text-anchor="middle" letter-spacing="0">2</text></svg>.</div>
<div class="t" id="t7a" style="left:298.40px;top:742.75px;letter-spacing:0.002px">Insert Needle with the groove facing</div>
<div class="t" id="t7b" style="left:298.40px;top:757.05px;letter-spacing:-0.047px">upward, and turn Needle Fixing Pin as</div>
<div class="t" id="t7c" style="left:298.40px;top:770.80px;letter-spacing:0.021px">shown in <svg class="c" viewBox="0 0 12.4 12.4"><circle cx="6.2" cy="6.2" r="5.6" fill="none" stroke="#27438a" stroke-width="1"/><path d="M6.25,2.8 L7.35,2.8 L7.35,9.6 L6.1,9.6 L6.1,4.35 L4.4,5.5 L4.4,4.35 Z" fill="#1c3a82"/></svg>.</div>
</body></html>
